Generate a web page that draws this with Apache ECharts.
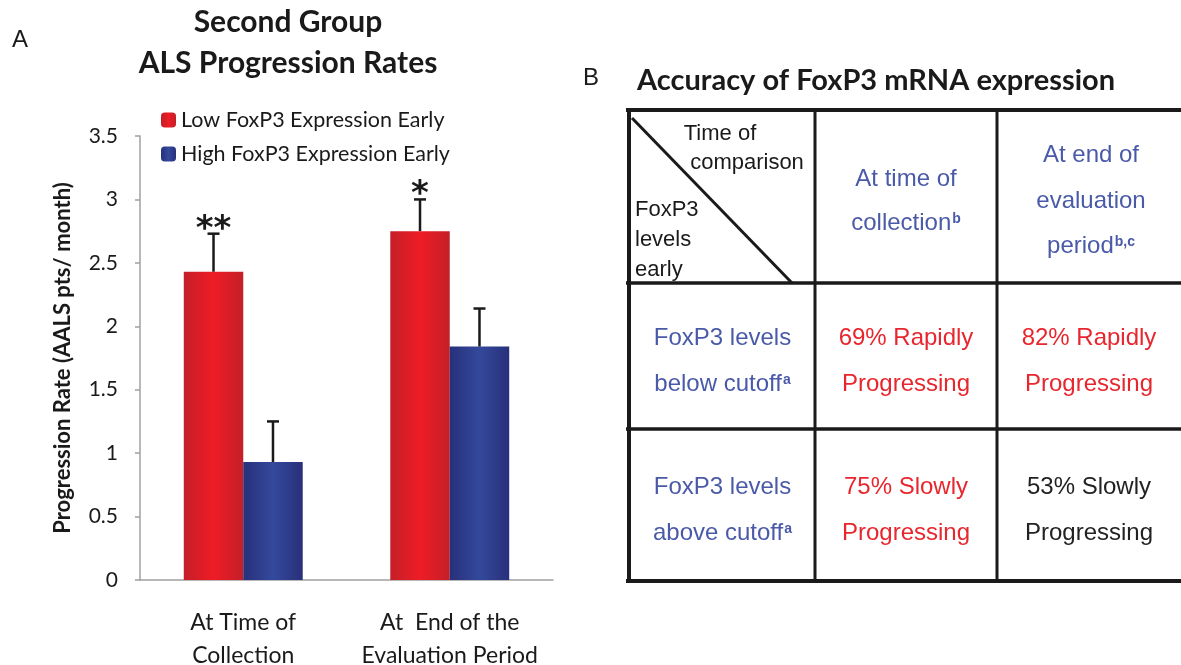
<!DOCTYPE html>
<html>
<head>
<meta charset="utf-8">
<script src="https://cdn.jsdelivr.net/npm/echarts@6/dist/echarts.min.js"></script>
<style>
  html, body { margin: 0; padding: 0; background: #fff; }
  #chart { width: 1181px; height: 665px; }
</style>
</head>
<body>
<div id="chart"></div>
<script>
  // panel A data
  const categories = ['At Time of\nCollection', 'At  End of the\nEvaluation Period'];
  const seriesNames = ['Low FoxP3 Expression Early', 'High FoxP3 Expression Early'];
  const lowValues = [2.43, 2.75];
  const lowErrorTop = [2.73, 3.0];
  const highValues = [0.93, 1.84];
  const highErrorTop = [1.25, 2.14];
  const significance = ['**', '*'];
  const yTicks = { min: 0, max: 3.5, interval: 0.5 };

  // panel B table
  const colHeaders = [['At time of', 'collection{sup|b}'], ['At end of', 'evaluation', 'period{sup|b,c}']];
  const rowHeaders = [['FoxP3 levels', 'below cutoff{sup|a}'], ['FoxP3 levels', 'above cutoff{sup|a}']];
  const cellText = [
    [['69% Rapidly', 'Progressing'], ['82% Rapidly', 'Progressing']],
    [['75% Slowly', 'Progressing'], ['53% Slowly', 'Progressing']]
  ];
  const cellColors = [['#e8262d', '#e8262d'], ['#e8262d', '#222222']];

  const chart = echarts.init(document.getElementById('chart'));

  const barGrad = (edge, mid) => new echarts.graphic.LinearGradient(0, 0, 1, 0, [
    { offset: 0, color: edge },
    { offset: 0.5, color: mid },
    { offset: 1, color: edge }
  ]);
  const redFill = barGrad('#c41f28', '#ee1c25');
  const blueFill = barGrad('#28307a', '#34499c');

  // error bars drawn through axis scales
  const errorSeries = (name, values, tops, dx, stars) => ({
    type: 'custom',
    name: name + ' err',
    z: 5,
    data: values.map((v, i) => [i, v, tops[i]]),
    renderItem: (params, api) => {
      const base = api.coord([api.value(0), api.value(1)]);
      const top = api.coord([api.value(0), api.value(2)]);
      const bw = api.size([1, 0])[0];
      const x = base[0] + dx * bw;
      const children = [
        { type: 'line', shape: { x1: x, y1: base[1], x2: x, y2: top[1] }, style: { stroke: '#1a1a1a', lineWidth: 2.5 } },
        { type: 'line', shape: { x1: x - 6, y1: top[1], x2: x + 6, y2: top[1] }, style: { stroke: '#1a1a1a', lineWidth: 2.5 } }
      ];
      if (stars) {
        children.push({
          type: 'text',
          style: {
            text: stars[params.dataIndex], x: x, y: top[1] + 13,
            align: 'center', verticalAlign: 'bottom',
            font: 'bold 34px "DejaVu Sans", sans-serif', fill: '#1a1a1a'
          }
        });
      }
      return { type: 'group', children };
    }
  });

  // table geometry
  const tx = [628, 815, 997, 1181];
  const ty = [110, 283, 429, 581];
  const fontSize = 24;
  const blue = '#4a5aa8';
  const graphics = [];
  const hline = (y, w) => graphics.push({ type: 'line', shape: { x1: tx[0] - 2, y1: y, x2: 1181, y2: y }, style: { stroke: '#1a1a1a', lineWidth: w } });
  const vline = (x, w) => graphics.push({ type: 'line', shape: { x1: x, y1: ty[0], x2: x, y2: ty[3] }, style: { stroke: '#1a1a1a', lineWidth: w } });
  hline(ty[0], 4); hline(ty[1], 3.5); hline(ty[2], 3.5); hline(ty[3], 4);
  vline(tx[0] + 1, 4); vline(tx[1], 3); vline(tx[2], 3);
  graphics.push({ type: 'line', shape: { x1: 632, y1: 118, x2: 792, y2: 283 }, style: { stroke: '#1a1a1a', lineWidth: 3 } });

  // one text element per line so superscripts sit at cap height
  const textBlock = (lines, cx, cy, gap, color, align, size) => {
    const fs = size || fontSize;
    const y0 = cy - gap * (lines.length - 1) / 2;
    lines.forEach((line, k) => {
      graphics.push({
        type: 'text',
        style: {
          text: line, x: cx, y: y0 + k * gap,
          align: align || 'center', verticalAlign: 'middle',
          fontFamily: '"Liberation Sans", Arial, sans-serif', fontSize: fs,
          fill: color, lineHeight: fs + 2,
          rich: {
            sup: {
              fontFamily: '"Liberation Sans", Arial, sans-serif', fontSize: 14, fontWeight: 'bold',
              fill: color, lineHeight: 14, verticalAlign: 'top', padding: [2, 0, 0, 1]
            }
          }
        }
      });
    });
  };
  textBlock(['Time of'], 720, 134, 30, '#1a1a1a', 'center', 22);
  textBlock(['comparison'], 747, 163, 30, '#1a1a1a', 'center', 22);
  textBlock(['FoxP3', 'levels', 'early'], 635, 240, 30, '#1a1a1a', 'left', 22);
  textBlock(colHeaders[0], (tx[1] + tx[2]) / 2, 201, 44, blue);
  textBlock(colHeaders[1], (tx[2] + tx[3]) / 2 + 2, 201, 45.5, blue);
  rowHeaders.forEach((r, i) => textBlock(r, (tx[0] + tx[1]) / 2 + 1, (ty[i + 1] + ty[i + 2]) / 2 + 5, 46, blue));
  cellText.forEach((row, i) => row.forEach((c, j) =>
    textBlock(c, (tx[j + 1] + tx[j + 2]) / 2, (ty[i + 1] + ty[i + 2]) / 2 + 5, 46, cellColors[i][j])));

  // panel labels and titles
  graphics.push(
    { type: 'text', style: { text: 'A', x: 12, y: 28, font: '24px "Liberation Sans", Arial, sans-serif', fill: '#1a1a1a' } },
    { type: 'text', style: { text: 'B', x: 583, y: 66, font: '24px "Liberation Sans", Arial, sans-serif', fill: '#1a1a1a' } },
    { type: 'text', style: { text: 'Accuracy of FoxP3 mRNA expression', x: 637, y: 66, font: 'bold 29px Lato, sans-serif', fill: '#1a1a1a' } }
  );

  const option = {
    animation: false,
    backgroundColor: '#fff',
    title: {
      text: 'Second Group\nALS Progression Rates',
      left: 283, top: -3, textAlign: 'center',
      textStyle: { fontFamily: 'Lato', fontWeight: 'bold', fontSize: 30, color: '#1a1a1a', lineHeight: 41 }
    },
    legend: {
      orient: 'vertical', left: 156, top: 104,
      itemWidth: 15, itemHeight: 15, itemGap: 12,
      data: seriesNames,
      textStyle: { fontFamily: 'Lato', fontSize: 21.5, color: '#1a1a1a' }
    },
    grid: { left: 140, right: 628, top: 136, bottom: 85, outerBoundsMode: 'none' },
    xAxis: {
      type: 'category',
      data: categories,
      axisLine: { lineStyle: { color: '#a0a0a0', width: 1.5 } },
      axisTick: { length: 10, lineStyle: { color: '#a0a0a0', width: 1.5 } },
      axisLabel: { interval: 0, margin: 26, fontFamily: 'Lato', fontSize: 23, color: '#1a1a1a', lineHeight: 33 }
    },
    yAxis: {
      type: 'value',
      min: yTicks.min, max: yTicks.max, interval: yTicks.interval,
      name: 'Progression Rate (AALS pts/ month)',
      nameLocation: 'middle', nameGap: 66,
      nameTextStyle: { fontFamily: 'Lato', fontWeight: 'bold', fontSize: 22, color: '#1a1a1a' },
      axisLine: { show: true, lineStyle: { color: '#a0a0a0', width: 1.5 } },
      axisTick: { show: true, length: 5, lineStyle: { color: '#a0a0a0', width: 1.5 } },
      splitLine: { show: false },
      axisLabel: { margin: 22, fontFamily: 'Lato', fontSize: 21, color: '#1a1a1a' }
    },
    series: [
      { type: 'bar', name: seriesNames[0], data: lowValues, barWidth: '28.8%', barGap: '0%', itemStyle: { color: redFill } },
      { type: 'bar', name: seriesNames[1], data: highValues, barWidth: '28.8%', barGap: '0%', itemStyle: { color: blueFill } },
      errorSeries(seriesNames[0], lowValues, lowErrorTop, -0.144, significance),
      errorSeries(seriesNames[1], highValues, highErrorTop, 0.144, null)
    ],
    graphic: graphics
  };

  chart.setOption(option);
</script>
</body>
</html>
